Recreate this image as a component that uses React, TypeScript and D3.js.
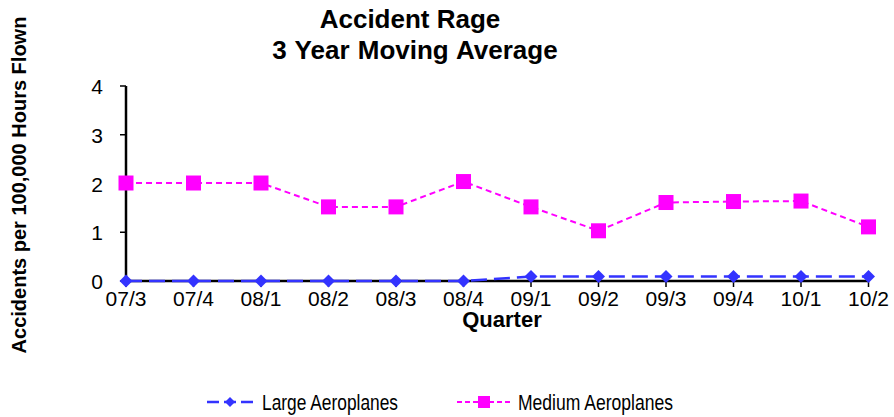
import React from "react";
import * as d3 from "d3";

const quarters = ["07/3", "07/4", "08/1", "08/2", "08/3", "08/4", "09/1", "09/2", "09/3", "09/4", "10/1", "10/2"];
const largeValues = [0, 0, 0, 0, 0, 0, 0.09, 0.09, 0.09, 0.09, 0.09, 0.09];
const mediumValues = [2.01, 2.01, 2.01, 1.52, 1.52, 2.04, 1.52, 1.03, 1.61, 1.63, 1.64, 1.11];
const yTicks = [0, 1, 2, 3, 4];

const W = 894, H = 417;
const x0 = 126, x1 = 868.5;
const yTop = 86, yBot = 281;
const FONT = "'Liberation Sans', Arial, sans-serif";

export default function App() {
  const x = d3.scalePoint<string>().domain(quarters).range([x0, x1]);
  const y = d3.scaleLinear().domain([0, 4]).range([yBot, yTop]);
  const line = d3.line<number>().x((_, i) => x(quarters[i])!).y((d) => y(d));
  const blue = "#3333ff";
  const mag = "#ff00ff";
  const diamond = (cx: number, cy: number, r = 6.5) =>
    `M${cx},${cy - r}L${cx + r},${cy}L${cx},${cy + r}L${cx - r},${cy}Z`;

  return (
    <svg width={W} height={H} style={{ position: "absolute", left: 0, top: 0, background: "#fff" }}>
      <g fontFamily={FONT} fontWeight="bold" fontSize={26} textAnchor="middle" fill="#000">
        <text x={410} y={28}>Accident Rage</text>
        <text x={415} y={59} wordSpacing={1}>3 Year Moving Average</text>
      </g>
      <text
        transform={`translate(26,${185}) rotate(-90)`}
        textAnchor="middle"
        fontFamily={FONT}
        fontWeight="bold"
        fontSize={20}
      >
        Accidents per 100,000 Hours Flown
      </text>
      {/* y axis */}
      <line x1={x0} x2={x0} y1={yTop} y2={yBot} stroke="#000" strokeWidth={2.5} />
      {yTicks.map((t) => (
        <g key={t}>
          <line x1={x0 - 6} x2={x0} y1={y(t)} y2={y(t)} stroke="#000" strokeWidth={1.5} />
          <text x={103} y={y(t) + 8} textAnchor="end" fontFamily={FONT} fontSize={21}>
            {t}
          </text>
        </g>
      ))}
      {/* x axis */}
      <line x1={x0} x2={x1} y1={yBot} y2={yBot} stroke="#000" strokeWidth={2.5} />
      {quarters.map((q) => (
        <g key={q}>
          <line x1={x(q)} x2={x(q)} y1={yBot} y2={yBot + 6} stroke="#000" strokeWidth={1.5} />
          <text x={x(q)} y={306} textAnchor="middle" fontFamily={FONT} fontSize={21}>
            {q}
          </text>
        </g>
      ))}
      <text x={502} y={327} textAnchor="middle" fontFamily={FONT} fontWeight="bold" fontSize={22}>
        Quarter
      </text>
      {/* series */}
      <path d={line(mediumValues)!} fill="none" stroke={mag} strokeWidth={2} strokeDasharray="6,4" />
      {mediumValues.map((v, i) => (
        <rect key={i} x={x(quarters[i])! - 7.5} y={y(v) - 7.5} width={15} height={15} fill={mag} />
      ))}
      <path d={line(largeValues)!} fill="none" stroke={blue} strokeWidth={2.5} strokeDasharray="16,7" />
      {largeValues.map((v, i) => (
        <path key={i} d={diamond(x(quarters[i])!, y(v))} fill={blue} />
      ))}
      {/* legend */}
      <g>
        <line x1={207} x2={256} y1={402} y2={402} stroke={blue} strokeWidth={2.5} strokeDasharray="12,5" />
        <path d={diamond(230, 402, 5)} fill={blue} />
        <text x={262} y={410} fontFamily={FONT} fontSize={22} textLength={136} lengthAdjust="spacingAndGlyphs">
          Large Aeroplanes
        </text>
        <line x1={457} x2={512} y1={402} y2={402} stroke={mag} strokeWidth={2} strokeDasharray="5,3" />
        <rect x={478} y={396} width={12} height={12} fill={mag} />
        <text x={518} y={410} fontFamily={FONT} fontSize={22} textLength={155} lengthAdjust="spacingAndGlyphs">
          Medium Aeroplanes
        </text>
      </g>
    </svg>
  );
}
